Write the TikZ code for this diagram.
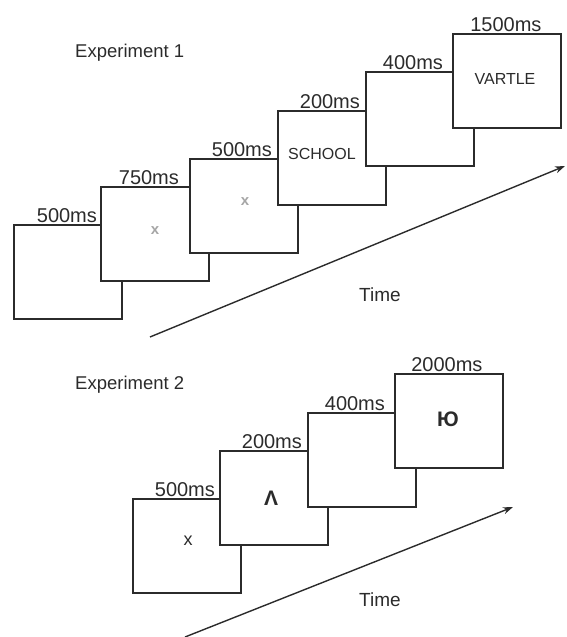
\documentclass[tikz,border=0pt]{standalone}
\usepackage{fontspec}
\setmainfont{Liberation Sans}
\usetikzlibrary{arrows.meta}
\definecolor{ink}{HTML}{2B2B2B}
\begin{document}
\begin{tikzpicture}[x=1pt,y=-1pt,
  frame/.style={draw=ink,fill=white,line width=1.8pt,minimum width=108pt,minimum height=94pt,inner sep=0pt,anchor=north west},
  dur/.style={anchor=south,inner sep=1.5pt,text=ink,font=\fontsize{20}{22}\selectfont},
  title/.style={anchor=west,inner sep=0pt,text=ink,font=\fontsize{18.5}{22}\selectfont},
  word/.style={text=ink,inner sep=0pt,font=\fontsize{16}{18}\selectfont},
  sym/.style={text=ink,inner sep=0pt,font=\fontsize{21}{23}\selectfont\bfseries},
  faint/.style={text=black!35,inner sep=0pt,font=\fontsize{15}{17}\selectfont\bfseries},
  timearrow/.style={draw=ink,line width=1.4pt,-{Stealth[length=10pt,width=7pt]}}]
\useasboundingbox (0,0) rectangle (566,637);

% Experiment 1
\node[title] (t1) at (75,53) {Experiment 1};
\node[frame] (a1) at (13,224) {};
\node[dur] (la1) at ([xshift=-1pt]a1.north) {500ms};
\node[frame] (a2) at (100,186) {};
\node[dur] (la2) at ([xshift=-6pt]a2.north) {750ms};
\node[faint] (xa2) at (155,231) {x};
\node[frame] (a3) at (189,158) {};
\node[dur] (la3) at ([xshift=-2pt]a3.north) {500ms};
\node[faint] (xa3) at (245,202) {x};
\node[frame] (a4) at (277,110) {};
\node[dur] (la4) at ([xshift=-2pt]a4.north) {200ms};
\node[word] (sa4) at (322,154) {SCHOOL};
\node[frame] (a5) at (365,71) {};
\node[dur] (la5) at ([xshift=-7pt]a5.north) {400ms};
\node[frame] (a6) at (452,33) {};
\node[dur] (la6) at ([xshift=-1pt]a6.north) {1500ms};
\node[word] (sa6) at (505,79) {VARTLE};
\coordinate (s1) at (150,337);
\coordinate (e1) at (565,166);
\draw[timearrow] (s1) -- (e1);
\node[text=ink,inner sep=0pt,font=\fontsize{19}{22}\selectfont] (time1) at (380,295) {Time};

% Experiment 2
\node[title] (t2) at (75,385) {Experiment 2};
\node[frame] (b1) at (132,498) {};
\node[dur] (lb1) at ([xshift=-2pt]b1.north) {500ms};
\node[text=ink,inner sep=0pt,font=\fontsize{18}{20}\selectfont] (xb1) at (188,541) {x};
\node[frame] (b2) at (219,450) {};
\node[dur] (lb2) at ([xshift=-2pt]b2.north) {200ms};
\node[sym] (sb2) at (271,498) {Λ};
\node[frame] (b3) at (307,412) {};
\node[dur] (lb3) at ([xshift=-7pt]b3.north) {400ms};
\node[frame] (b4) at (394,373) {};
\node[dur] (lb4) at ([xshift=-2pt]b4.north) {2000ms};
\node[sym] (sb4) at (448,419) {Ю};
\coordinate (s2) at (185,637);
\coordinate (e2) at (513,507);
\draw[timearrow] (s2) -- (e2);
\node[text=ink,inner sep=0pt,font=\fontsize{19}{22}\selectfont] (time2) at (380,600) {Time};
\end{tikzpicture}
\end{document}
